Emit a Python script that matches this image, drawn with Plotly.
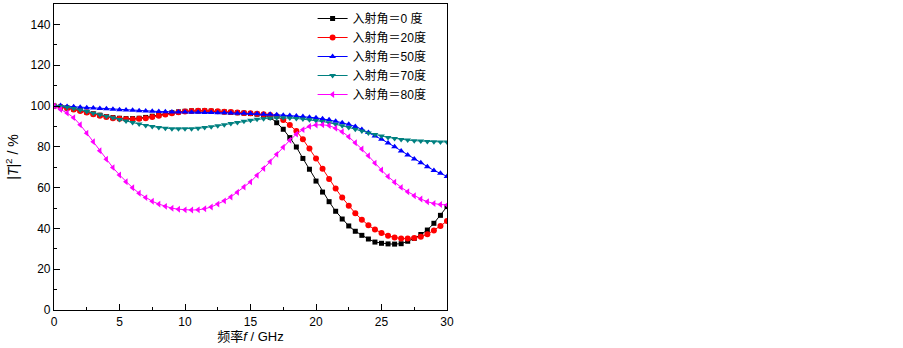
import plotly.graph_objects as go

freq = [i * 0.5 for i in range(61)]

angle_labels = ["入射角＝0 度", "入射角＝20度", "入射角＝50度", "入射角＝70度", "入射角＝80度"]

t_0 = [100, 99.5, 99, 98.5, 97.8, 97, 96.2, 95.5, 94.8, 94.3,
       94, 93.8, 93.8, 94, 94.4, 95, 95.6, 96.2, 96.7, 97.1,
       97.4, 97.6, 97.6, 97.6, 97.5, 97.3, 97.1, 96.9, 96.7, 96.5,
       96.3, 96, 95.5, 94.5, 91.8, 88.6, 84.5, 79.9, 74.3, 69,
       63.2, 57.8, 53.1, 48.4, 44.6, 41.2, 38.6, 36.6, 34.8, 33.3,
       32.7, 32.4, 32.3, 32.5, 33.7, 35.1, 37, 39.2, 42.5, 46.4, 50.7]

t_20 = [100, 99.5, 99, 98.3, 97.5, 96.8, 96, 95.2, 94.6, 94,
        93.7, 93.5, 93.5, 93.7, 94, 94.6, 95.2, 95.8, 96.4, 96.9,
        97.3, 97.6, 97.7, 97.7, 97.6, 97.4, 97.2, 97, 96.8, 96.6,
        96.4, 96.2, 96, 95.6, 95, 93.1, 90.7, 87.7, 83.7, 79.2,
        74.3, 69.3, 64.2, 59.5, 55.1, 51.1, 47.4, 44.3, 41.5, 39.4,
        37.7, 36.4, 35.6, 35, 35, 35.3, 35.9, 37.1, 39, 41.2, 43.6]

t_50 = [100, 100.2, 99.8, 99.6, 99.4, 99.2, 99, 98.8, 98.6, 98.4,
        98.2, 98, 97.9, 97.7, 97.6, 97.4, 97.3, 97.2, 97.1, 97,
        97, 96.9, 96.9, 96.8, 96.8, 96.7, 96.7, 96.6, 96.5, 96.4,
        96.3, 96.2, 96, 95.9, 95.7, 95.5, 95.3, 95.1, 94.8, 94.5,
        94.2, 93.7, 93.2, 92.5, 91.8, 91, 90, 88.5, 87, 85.3,
        83.7, 81.9, 80, 78, 76, 74, 72.2, 70.2, 68.4, 67, 65.5]

t_70 = [100, 99.8, 99.4, 98.8, 98, 97.3, 96.5, 95.7, 95, 94.2,
        93.4, 92.6, 91.9, 91.2, 90.5, 90, 89.5, 89.1, 88.9, 88.8,
        88.8, 88.9, 89.1, 89.4, 89.8, 90.3, 90.8, 91.4, 91.9, 92.5,
        93, 93.5, 93.8, 94.1, 94.2, 94.2, 94.1, 93.9, 93.6, 93.3,
        92.9, 92.4, 91.8, 91.1, 90.3, 89.5, 88.6, 87.7, 86.8, 86,
        85.3, 84.6, 84.1, 83.6, 83.3, 83, 82.8, 82.6, 82.5, 82.4, 82.4]

t_80 = [100, 98.3, 96.6, 94.3, 90.8, 86.7, 82.5, 78.1, 73.9, 69.8,
        66.2, 62.9, 59.9, 57.2, 55.1, 53.3, 51.9, 50.8, 49.9, 49.4,
        49.1, 49, 49.1, 49.6, 50.5, 51.9, 53.5, 55.4, 57.7, 60.3,
        62.8, 66, 69.4, 72.7, 76.3, 79.8, 83.2, 86.2, 88.4, 90,
        90.7, 90.8, 90.4, 89.1, 87.4, 84.9, 82, 78.9, 75.6, 72,
        68.6, 65.4, 62.6, 60.1, 58, 56, 54.4, 53.1, 52.2, 51.7, 51.5]

series = [t_0, t_20, t_50, t_70, t_80]
colors = ["#000000", "#ff0000", "#0000ff", "#008080", "#ff00ff"]
symbols = ["square", "circle", "triangle-up", "triangle-down", "triangle-left"]
sizes = [5, 6, 6, 6, 6]

fig = go.Figure()
for name, ys, c, s, sz in zip(angle_labels, series, colors, symbols, sizes):
    fig.add_trace(go.Scatter(
        x=freq, y=ys, name=name, mode="lines+markers",
        line=dict(color=c, width=1),
        marker=dict(symbol=s, size=sz, color=c, line=dict(width=0)),
    ))

axis_common = dict(
    showline=True, linecolor="#000000", linewidth=1.2, mirror=True,
    ticks="inside", tickcolor="#000000", ticklen=6, tickwidth=1,
    showgrid=False, zeroline=False, automargin=False,
    tickfont=dict(family="Liberation Sans, Arial, sans-serif", size=12, color="#000000"),
)

fig.update_xaxes(
    range=[0, 30], tick0=0, dtick=5,
    minor=dict(ticks="inside", dtick=2.5, ticklen=3, tickcolor="#000000", showgrid=False),
    title=dict(text="频率<i>f</i> / GHz", standoff=4,
               font=dict(family="Liberation Sans, Noto Sans CJK SC, sans-serif", size=13, color="#000000")),
    **axis_common,
)
fig.update_yaxes(
    range=[0, 150], tick0=0, dtick=20,
    minor=dict(ticks="inside", dtick=10, ticklen=3, tickcolor="#000000", showgrid=False),
    title=dict(text="|<i>T</i>|<sup>2</sup> / %", standoff=8,
               font=dict(family="Liberation Sans, Arial, sans-serif", size=14, color="#000000")),
    **axis_common,
)

fig.update_layout(
    width=903, height=348,
    margin=dict(l=54, r=456, t=4, b=38),
    paper_bgcolor="#ffffff", plot_bgcolor="#ffffff",
    showlegend=True,
    legend=dict(
        x=0.658, y=1.0, xanchor="left", yanchor="top",
        bgcolor="rgba(0,0,0,0)", borderwidth=0,
        font=dict(family="Liberation Sans, Noto Sans CJK SC, sans-serif", size=12, color="#000000"),
        itemwidth=30, tracegroupgap=0,
    ),
)

fig.write_html("out.html", config={"displayModeBar": False},
               post_script="document.body.style.margin='0';document.body.style.padding='0';")
